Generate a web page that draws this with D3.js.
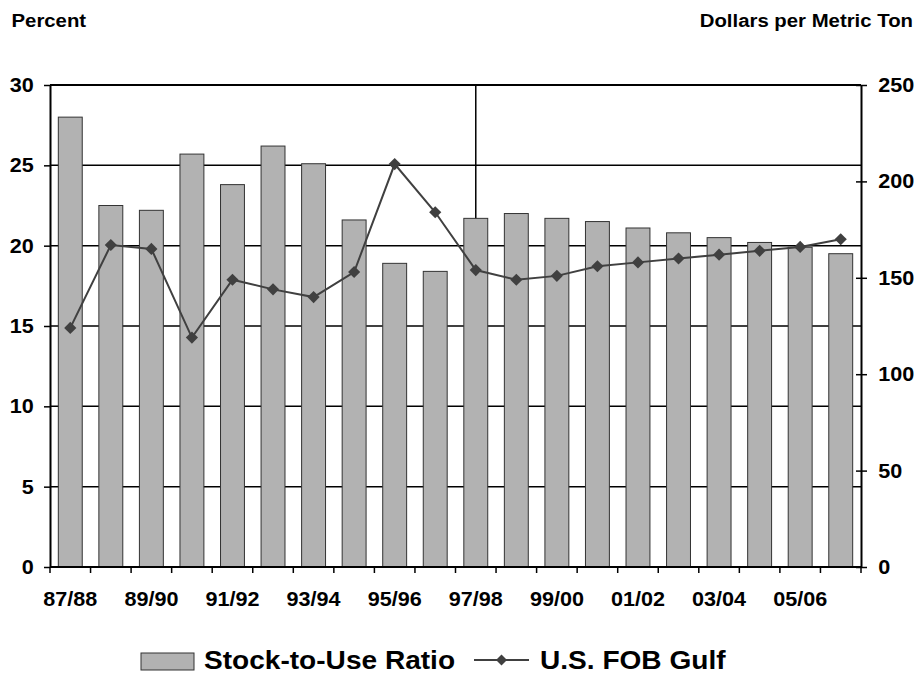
<!DOCTYPE html>
<html>
<head>
<meta charset="utf-8">
<script src="https://cdn.jsdelivr.net/npm/d3@7"></script>
<style>
  body { margin: 0; background: #fff; }
  svg { display: block; font-family: "Liberation Sans", Arial, sans-serif; font-weight: bold; }
</style>
</head>
<body>
<svg id="chart"></svg>
<script>
// marketing years
const categories = ["87/88","88/89","89/90","90/91","91/92","92/93","93/94","94/95","95/96","96/97",
                    "97/98","98/99","99/00","00/01","01/02","02/03","03/04","04/05","05/06","06/07"];
// stock-to-use ratio, percent (bars, left axis)
const stockToUse = [28.0,22.5,22.2,25.7,23.8,26.2,25.1,21.6,18.9,18.4,
                    21.7,22.0,21.7,21.5,21.1,20.8,20.5,20.2,19.9,19.5];
// U.S. FOB Gulf price, dollars per metric ton (line, right axis)
const fobGulf = [124,167,165,119,149,144,140,153,209,184,
                 154,149,151,156,158,160,162,164,166,170];
const leftTicks = [0,5,10,15,20,25,30];
const rightTicks = [0,50,100,150,200,250];
const xLabels = ["87/88","89/90","91/92","93/94","95/96","97/98","99/00","01/02","03/04","05/06"];
const forecastStart = "97/98";

const width = 920, height = 674;
const margin = { top: 85, right: 59, bottom: 107, left: 50 };
const sx = 1.08; // the source text is a little wide

const svg = d3.select("#chart").attr("width", width).attr("height", height);

const x = d3.scaleBand()
  .domain(categories)
  .range([margin.left, width - margin.right])
  .paddingInner(0.41)
  .paddingOuter(0.205);

const yL = d3.scaleLinear().domain([0, 30]).range([height - margin.bottom, margin.top]);
const yR = d3.scaleLinear().domain([0, 250]).range([height - margin.bottom, margin.top]);

const x0 = margin.left, x1 = width - margin.right;

// horizontal grid
svg.append("g")
  .selectAll("line")
  .data(leftTicks.filter(d => d > 0))
  .join("line")
  .attr("x1", x0).attr("x2", x1)
  .attr("y1", d => yL(d)).attr("y2", d => yL(d))
  .attr("stroke", "#000").attr("stroke-width", d => d === 30 ? 2 : 1.5);

// vertical line at 97/98
svg.append("line")
  .attr("x1", x(forecastStart) + x.bandwidth() / 2).attr("x2", x(forecastStart) + x.bandwidth() / 2)
  .attr("y1", yL(30)).attr("y2", yL(0))
  .attr("stroke", "#000").attr("stroke-width", 1.5);

// bars
svg.append("g")
  .selectAll("rect")
  .data(categories)
  .join("rect")
  .attr("x", d => x(d))
  .attr("y", (d, i) => yL(stockToUse[i]))
  .attr("width", x.bandwidth())
  .attr("height", (d, i) => yL(0) - yL(stockToUse[i]))
  .attr("fill", "#b2b2b2")
  .attr("stroke", "#333")
  .attr("stroke-width", 1);

// left axis
const gL = svg.append("g")
  .attr("transform", `translate(${x0},0)`)
  .call(d3.axisLeft(yL).tickValues(leftTicks).tickSizeInner(6).tickSizeOuter(0).tickPadding(9));
gL.select(".domain").attr("stroke", "#000").attr("stroke-width", 2);
gL.selectAll(".tick line").attr("stroke", "#000").attr("stroke-width", 1.5);
gL.selectAll("text").attr("font-size", 20).attr("fill", "#000")
  .attr("transform", `scale(${sx},1)`);

// right axis
const gR = svg.append("g")
  .attr("transform", `translate(${x1},0)`)
  .call(d3.axisRight(yR).tickValues(rightTicks).tickSizeInner(6).tickSizeOuter(0).tickPadding(10));
gR.select(".domain").attr("stroke", "#000").attr("stroke-width", 2);
gR.selectAll(".tick line").attr("x1", -5).attr("stroke", "#000").attr("stroke-width", 1.5);
gR.selectAll("text").attr("font-size", 20).attr("fill", "#000")
  .attr("transform", `scale(${sx},1)`);

// bottom axis: labels every other year, ticks at band edges
const gB = svg.append("g")
  .attr("transform", `translate(0,${yL(0)})`)
  .call(d3.axisBottom(x).tickValues(xLabels).tickSize(0).tickPadding(25));
gB.select(".domain").remove();
gB.selectAll("text").attr("font-size", 20).attr("fill", "#000")
  .each(function() {
    const t = d3.select(this);
    t.attr("transform", `scale(${sx},1)`);
  });

const edges = d3.range(categories.length + 1).map(i => x0 + i * x.step());
svg.append("g")
  .selectAll("line")
  .data(edges)
  .join("line")
  .attr("x1", d => d).attr("x2", d => d)
  .attr("y1", yL(0)).attr("y2", yL(0) + 6)
  .attr("stroke", "#000").attr("stroke-width", 1.5);
svg.append("line")
  .attr("x1", x0).attr("x2", x1 + 1)
  .attr("y1", yL(0)).attr("y2", yL(0))
  .attr("stroke", "#000").attr("stroke-width", 2);

// price line
const line = d3.line()
  .x((d, i) => x(categories[i]) + x.bandwidth() / 2)
  .y(d => yR(d));
svg.append("path")
  .datum(fobGulf)
  .attr("d", line)
  .attr("fill", "none")
  .attr("stroke", "#404040")
  .attr("stroke-width", 2);

const diamond = d3.symbol().type(d3.symbolSquare).size(74);
svg.append("g")
  .selectAll("path")
  .data(fobGulf)
  .join("path")
  .attr("d", diamond)
  .attr("transform", (d, i) => `translate(${x(categories[i]) + x.bandwidth() / 2},${yR(d)}) rotate(45)`)
  .attr("fill", "#404040");

// axis titles
svg.append("text")
  .attr("transform", `translate(11.5,26.5) scale(1.1,1)`)
  .attr("font-size", 18.5)
  .text("Percent");
svg.append("text")
  .attr("transform", `translate(913,26.5) scale(1.1,1)`)
  .attr("text-anchor", "end")
  .attr("font-size", 18.5)
  .text("Dollars per Metric Ton");

// legend
const lg = svg.append("g");
lg.append("rect")
  .attr("x", 141).attr("y", 653).attr("width", 53).attr("height", 17)
  .attr("fill", "#b2b2b2").attr("stroke", "#333").attr("stroke-width", 1);
lg.append("text")
  .attr("transform", `translate(204,669) scale(${sx},1)`)
  .attr("font-size", 26)
  .text("Stock-to-Use Ratio");
lg.append("line")
  .attr("x1", 474).attr("x2", 529).attr("y1", 660).attr("y2", 660)
  .attr("stroke", "#404040").attr("stroke-width", 2);
lg.append("path")
  .attr("d", d3.symbol().type(d3.symbolSquare).size(60))
  .attr("transform", "translate(501.5,660) rotate(45)")
  .attr("fill", "#404040");
lg.append("text")
  .attr("transform", `translate(540,669) scale(${sx},1)`)
  .attr("font-size", 26)
  .text("U.S. FOB Gulf");
</script>
</body>
</html>
